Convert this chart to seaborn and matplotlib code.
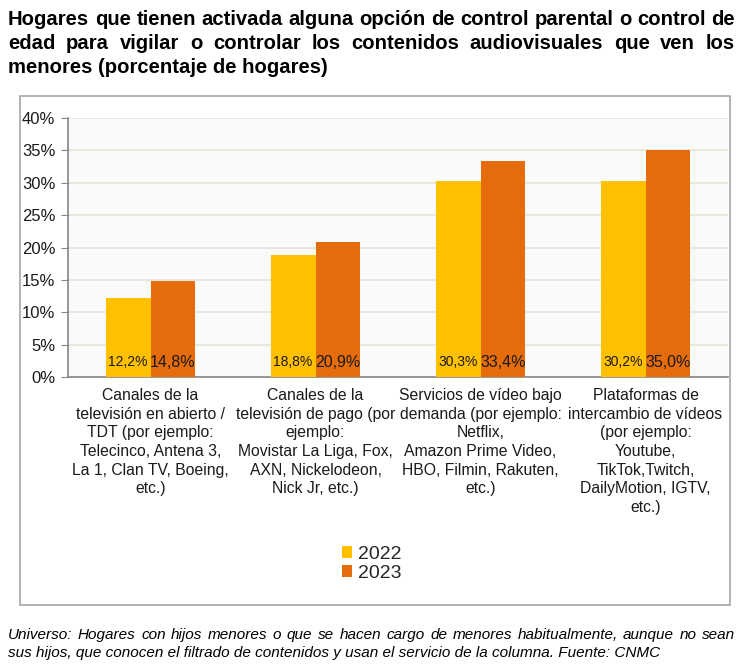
import pandas as pd
import matplotlib.pyplot as plt
import seaborn as sns
from matplotlib.patches import Rectangle

categorias = [
    "Canales de la\ntelevisión en abierto /\nTDT (por ejemplo:\nTelecinco, Antena 3,\nLa 1, Clan TV, Boeing,\netc.)",
    "Canales de la\ntelevisión de pago (por\nejemplo:\nMovistar La Liga, Fox,\nAXN, Nickelodeon,\nNick Jr, etc.)",
    "Servicios de vídeo bajo\ndemanda (por ejemplo:\nNetflix,\nAmazon Prime Video,\nHBO, Filmin, Rakuten,\netc.)",
    "Plataformas de\nintercambio de vídeos\n(por ejemplo:\nYoutube,\nTikTok,Twitch,\nDailyMotion, IGTV,\netc.)",
]
anios = ["2022", "2023"]
valores_2022 = [12.2, 18.8, 30.3, 30.2]
valores_2023 = [14.8, 20.9, 33.4, 35.0]
yticks = [0, 5, 10, 15, 20, 25, 30, 35, 40]

titulo = [
    "Hogares que tienen activada alguna opción de control parental o control de",
    "edad para vigilar o controlar los contenidos audiovisuales que ven los",
    "menores (porcentaje de hogares)",
]
nota = [
    "Universo: Hogares con hijos menores o que se hacen cargo de menores habitualmente, aunque no sean",
    "sus hijos, que conocen el filtrado de contenidos y usan el servicio de la columna. Fuente: CNMC",
]

df = pd.DataFrame({
    "categoria": categorias * 2,
    "anio": [anios[0]] * 4 + [anios[1]] * 4,
    "valor": valores_2022 + valores_2023,
})

sns.set_style("white")
plt.rcParams['font.family'] = ['Liberation Sans', 'DejaVu Sans']

fig = plt.figure(figsize=(7.45, 6.72), dpi=100)
renderer = fig.canvas.get_renderer()


def justified(lines, x0, x1, y0, dy, **kw):
    # place words one by one so each line fills the width (last line left)
    W = fig.get_figwidth() * fig.dpi
    for i, line in enumerate(lines):
        y = y0 - i * dy
        if i == len(lines) - 1:
            fig.text(x0, y, line, ha='left', va='baseline', **kw)
            continue
        words = line.split(" ")
        ts = [fig.text(0, y, w, ha='left', va='baseline', **kw) for w in words]
        widths = [t.get_window_extent(renderer).width / W for t in ts]
        gap = (x1 - x0 - sum(widths)) / (len(words) - 1)
        x = x0
        for t, w in zip(ts, widths):
            t.set_x(x)
            x += w + gap


justified(titulo, 8 / 745, 735 / 745, 1 - 25 / 672, 24 / 672,
          fontsize=14.6, fontweight='bold', color='black')
justified(nota, 8 / 745, 735 / 745, 1 - 639 / 672, 18 / 672,
          fontsize=11, fontstyle='italic', color='black')

# outer frame of the chart
fig.patches.append(Rectangle((20 / 745, 1 - 605 / 672), 710 / 745, 509 / 672,
                             transform=fig.transFigure, fill=False,
                             edgecolor='#A6A6A6', linewidth=1.2))

ax = fig.add_axes([68 / 745, 1 - 377 / 672, 660 / 745, 259 / 672])
ax.set_facecolor('#FAFAFA')

sns.barplot(data=df, x='categoria', y='valor', hue='anio',
            palette=['#FFC000', '#E46C0A'], width=0.545, gap=0,
            saturation=1, linewidth=0, ax=ax, zorder=3)

for cont, size in zip(ax.containers, [10, 11.5]):
    for bar in cont:
        v = bar.get_height()
        ax.text(bar.get_x() + bar.get_width() / 2, 2.3,
                f"{v:.1f}%".replace('.', ','), ha='center', va='center',
                fontsize=size, color='#1a1a1a', zorder=4)

ax.set_ylim(0, 40)
ax.set_xlim(-0.5, 3.5)
ax.set_yticks(yticks)
ax.set_yticklabels([f"{t}%" for t in yticks], fontsize=12, color='#1a1a1a')
ax.set_xticks(range(4))
ax.set_xticklabels(categorias, fontsize=11.3, color='#1a1a1a', linespacing=1.3)
ax.set_xticks([-0.5, 0.5, 1.5, 2.5, 3.5], minor=True)
ax.tick_params(axis='x', which='major', length=0, pad=8)
ax.tick_params(axis='x', which='minor', length=5, color='#868686', direction='out')
ax.tick_params(axis='y', length=5, color='#868686', direction='out', pad=4, left=True)
ax.set_xlabel("")
ax.set_ylabel("")
ax.grid(True, axis='y', color='#E6E2D6', linewidth=1.2, zorder=0)
ax.set_axisbelow(True)

for s in ['top', 'right']:
    ax.spines[s].set_visible(False)
for s in ['left', 'bottom']:
    ax.spines[s].set_color('#868686')
    ax.spines[s].set_linewidth(1.2)

ax.legend(title=None, loc='center', bbox_to_anchor=(372 / 745, 1 - 564 / 672),
          bbox_transform=fig.transFigure, frameon=False, fontsize=14,
          handlelength=0.5, handleheight=0.55, handletextpad=0.3,
          labelspacing=0.12)

plt.savefig('out.png', dpi=100)
